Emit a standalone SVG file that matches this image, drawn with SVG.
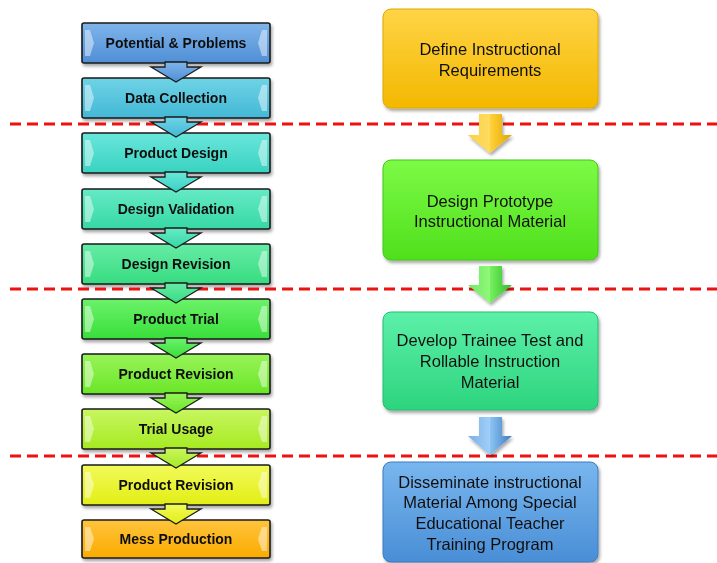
<svg xmlns="http://www.w3.org/2000/svg" width="717" height="563" viewBox="0 0 717 563">
<defs>
<filter id="sh" x="-10%" y="-10%" width="125%" height="130%"><feDropShadow dx="1.5" dy="2.5" stdDeviation="1.8" flood-color="#000" flood-opacity="0.35"/></filter>
<linearGradient id="g1" x1="0" y1="0" x2="0" y2="1"><stop offset="0" stop-color="#7fb4ea"/><stop offset="1" stop-color="#4f8fd6"/></linearGradient>
<linearGradient id="g2" x1="0" y1="0" x2="0" y2="1"><stop offset="0" stop-color="#70d3e6"/><stop offset="1" stop-color="#42b8d6"/></linearGradient>
<linearGradient id="g3" x1="0" y1="0" x2="0" y2="1"><stop offset="0" stop-color="#6ae6dc"/><stop offset="1" stop-color="#38d2c0"/></linearGradient>
<linearGradient id="g4" x1="0" y1="0" x2="0" y2="1"><stop offset="0" stop-color="#66eac6"/><stop offset="1" stop-color="#36d8a4"/></linearGradient>
<linearGradient id="g5" x1="0" y1="0" x2="0" y2="1"><stop offset="0" stop-color="#66eca6"/><stop offset="1" stop-color="#36dc80"/></linearGradient>
<linearGradient id="g6" x1="0" y1="0" x2="0" y2="1"><stop offset="0" stop-color="#6cf26a"/><stop offset="1" stop-color="#38de3a"/></linearGradient>
<linearGradient id="g7" x1="0" y1="0" x2="0" y2="1"><stop offset="0" stop-color="#98f458"/><stop offset="1" stop-color="#6ae628"/></linearGradient>
<linearGradient id="g8" x1="0" y1="0" x2="0" y2="1"><stop offset="0" stop-color="#c8f660"/><stop offset="1" stop-color="#a6ea22"/></linearGradient>
<linearGradient id="g9" x1="0" y1="0" x2="0" y2="1"><stop offset="0" stop-color="#f2fa5a"/><stop offset="1" stop-color="#e2ee14"/></linearGradient>
<linearGradient id="g10" x1="0" y1="0" x2="0" y2="1"><stop offset="0" stop-color="#ffc43c"/><stop offset="1" stop-color="#fbab00"/></linearGradient>
<linearGradient id="ry" x1="0" y1="0" x2="0" y2="1"><stop offset="0" stop-color="#ffd446"/><stop offset="1" stop-color="#f3b800"/></linearGradient>
<linearGradient id="rg" x1="0" y1="0" x2="0" y2="1"><stop offset="0" stop-color="#7dfa46"/><stop offset="1" stop-color="#4fe01c"/></linearGradient>
<linearGradient id="rt" x1="0" y1="0" x2="0" y2="1"><stop offset="0" stop-color="#5cf0a8"/><stop offset="1" stop-color="#2dd47e"/></linearGradient>
<linearGradient id="rb" x1="0" y1="0" x2="0" y2="1"><stop offset="0" stop-color="#78b6ee"/><stop offset="1" stop-color="#4a8ed6"/></linearGradient>
<linearGradient id="ay" x1="0" y1="0" x2="1" y2="0"><stop offset="0" stop-color="#f0b400"/><stop offset="0.5" stop-color="#ffd23a"/><stop offset="1" stop-color="#e0a400"/></linearGradient>
<linearGradient id="ag" x1="0" y1="0" x2="1" y2="0"><stop offset="0" stop-color="#3cd03c"/><stop offset="0.5" stop-color="#78f060"/><stop offset="1" stop-color="#2cbc2c"/></linearGradient>
<linearGradient id="ab" x1="0" y1="0" x2="1" y2="0"><stop offset="0" stop-color="#4a8ad0"/><stop offset="0.5" stop-color="#8cc4f2"/><stop offset="1" stop-color="#3e7cc4"/></linearGradient>
<style>
.lb{stroke:#1a1a1a;stroke-width:1.6}
.lt{font-family:"Liberation Sans",Arial,sans-serif;font-weight:bold;font-size:14px;fill:#111;text-anchor:middle}
.rt{font-family:"Liberation Sans",Arial,sans-serif;font-size:16.5px;fill:#111;text-anchor:middle}
.tab{fill:#ffffff;fill-opacity:0.45}
.la{stroke:#1a1a1a;stroke-width:1.3;stroke-linejoin:miter}
.dash{stroke:#ee1111;stroke-width:3;stroke-dasharray:11 6;fill:none}
</style>
</defs>
<rect width="717" height="563" fill="#fff"/>

<g id="n1" filter="url(#sh)"><rect class="lb" x="82" y="23" width="188" height="40" rx="2" fill="url(#g1)"/><path class="tab" d="M85 30h5l4 13l-4 13h-5z"/><path class="tab" d="M267 30h-5l-4 13l4 13h5z"/><text class="lt" x="176" y="48">Potential &amp; Problems</text></g>
<g id="n2" filter="url(#sh)"><rect class="lb" x="82" y="78" width="188" height="40" rx="2" fill="url(#g2)"/><path class="tab" d="M85 85h5l4 13l-4 13h-5z"/><path class="tab" d="M267 85h-5l-4 13l4 13h5z"/><text class="lt" x="176" y="103">Data Collection</text></g>
<g id="n3" filter="url(#sh)"><rect class="lb" x="82" y="133" width="188" height="40" rx="2" fill="url(#g3)"/><path class="tab" d="M85 140h5l4 13l-4 13h-5z"/><path class="tab" d="M267 140h-5l-4 13l4 13h5z"/><text class="lt" x="176" y="158">Product Design</text></g>
<g id="n4" filter="url(#sh)"><rect class="lb" x="82" y="189" width="188" height="40" rx="2" fill="url(#g4)"/><path class="tab" d="M85 196h5l4 13l-4 13h-5z"/><path class="tab" d="M267 196h-5l-4 13l4 13h5z"/><text class="lt" x="176" y="214">Design Validation</text></g>
<g id="n5" filter="url(#sh)"><rect class="lb" x="82" y="244" width="188" height="40" rx="2" fill="url(#g5)"/><path class="tab" d="M85 251h5l4 13l-4 13h-5z"/><path class="tab" d="M267 251h-5l-4 13l4 13h5z"/><text class="lt" x="176" y="269">Design Revision</text></g>
<g id="n6" filter="url(#sh)"><rect class="lb" x="82" y="299" width="188" height="40" rx="2" fill="url(#g6)"/><path class="tab" d="M85 306h5l4 13l-4 13h-5z"/><path class="tab" d="M267 306h-5l-4 13l4 13h5z"/><text class="lt" x="176" y="324">Product Trial</text></g>
<g id="n7" filter="url(#sh)"><rect class="lb" x="82" y="354" width="188" height="40" rx="2" fill="url(#g7)"/><path class="tab" d="M85 361h5l4 13l-4 13h-5z"/><path class="tab" d="M267 361h-5l-4 13l4 13h5z"/><text class="lt" x="176" y="379">Product Revision</text></g>
<g id="n8" filter="url(#sh)"><rect class="lb" x="82" y="409" width="188" height="40" rx="2" fill="url(#g8)"/><path class="tab" d="M85 416h5l4 13l-4 13h-5z"/><path class="tab" d="M267 416h-5l-4 13l4 13h5z"/><text class="lt" x="176" y="434">Trial Usage</text></g>
<g id="n9" filter="url(#sh)"><rect class="lb" x="82" y="465" width="188" height="40" rx="2" fill="url(#g9)"/><path class="tab" d="M85 472h5l4 13l-4 13h-5z"/><path class="tab" d="M267 472h-5l-4 13l4 13h5z"/><text class="lt" x="176" y="490">Product Revision</text></g>
<g id="n10" filter="url(#sh)"><rect class="lb" x="82" y="520" width="188" height="38" rx="2" fill="url(#g10)"/><path class="tab" d="M85 527h5l4 12l-4 12h-5z"/><path class="tab" d="M267 527h-5l-4 12l4 12h5z"/><text class="lt" x="176" y="544">Mess Production</text></g>

<g id="r1" filter="url(#sh)"><rect x="383" y="9" width="215" height="99" rx="8" fill="url(#ry)" stroke="#e0a800" stroke-width="1"/><text class="rt" x="490" y="55">Define Instructional</text><text class="rt" x="490" y="76">Requirements</text></g>
<g id="r2" filter="url(#sh)"><rect x="383" y="160" width="215" height="100" rx="8" fill="url(#rg)" stroke="#44c818" stroke-width="1"/><text class="rt" x="490" y="207">Design Prototype</text><text class="rt" x="490" y="227">Instructional Material</text></g>
<g id="r3" filter="url(#sh)"><rect x="383" y="312" width="215" height="98" rx="8" fill="url(#rt)" stroke="#26bc70" stroke-width="1"/><text class="rt" x="490" y="346">Develop Trainee Test and</text><text class="rt" x="490" y="367">Rollable Instruction</text><text class="rt" x="490" y="388">Material</text></g>
<g id="r4" filter="url(#sh)"><rect x="383" y="462" width="215" height="100" rx="8" fill="url(#rb)" stroke="#3c7cc0" stroke-width="1"/><text class="rt" x="490" y="488">Disseminate instructional</text><text class="rt" x="490" y="508">Material Among Special</text><text class="rt" x="490" y="529">Educational Teacher</text><text class="rt" x="490" y="550">Training Program</text></g>

<g id="connectors">
<line class="dash" x1="10" y1="124" x2="717" y2="124"/>
<line class="dash" x1="10" y1="289" x2="717" y2="289"/>
<line class="dash" x1="10" y1="456" x2="717" y2="456"/>
<path class="la" fill="url(#g1)" d="M165 62h22v5h14l-25 15l-25-15h14z"/>
<path class="la" fill="url(#g2)" d="M165 117h22v5h14l-25 15l-25-15h14z"/>
<path class="la" fill="url(#g3)" d="M165 172h22v5h14l-25 15l-25-15h14z"/>
<path class="la" fill="url(#g4)" d="M165 228h22v5h14l-25 15l-25-15h14z"/>
<path class="la" fill="url(#g5)" d="M165 283h22v5h14l-25 15l-25-15h14z"/>
<path class="la" fill="url(#g6)" d="M165 338h22v5h14l-25 15l-25-15h14z"/>
<path class="la" fill="url(#g7)" d="M165 393h22v5h14l-25 15l-25-15h14z"/>
<path class="la" fill="url(#g8)" d="M165 448h22v5h14l-25 15l-25-15h14z"/>
<path class="la" fill="url(#g9)" d="M165 504h22v5h14l-25 15l-25-15h14z"/>
<g filter="url(#sh)"><path fill="url(#ay)" d="M479 114h23v21h10l-22 18l-22-18h11z"/><path fill="#ffe27a" fill-opacity="0.6" d="M479 114h11v21l0 18l-22-18h11z"/></g>
<g filter="url(#sh)"><path fill="url(#ag)" d="M479 266h23v19h10l-22 18l-22-18h11z"/><path fill="#a8ff90" fill-opacity="0.5" d="M479 266h11v19l0 18l-22-18h11z"/></g>
<g filter="url(#sh)"><path fill="url(#ab)" d="M479 417h23v19h10l-22 19l-22-19h11z"/><path fill="#b8dcff" fill-opacity="0.45" d="M479 417h11v19l0 19l-22-19h11z"/></g>
</g>
</svg>
